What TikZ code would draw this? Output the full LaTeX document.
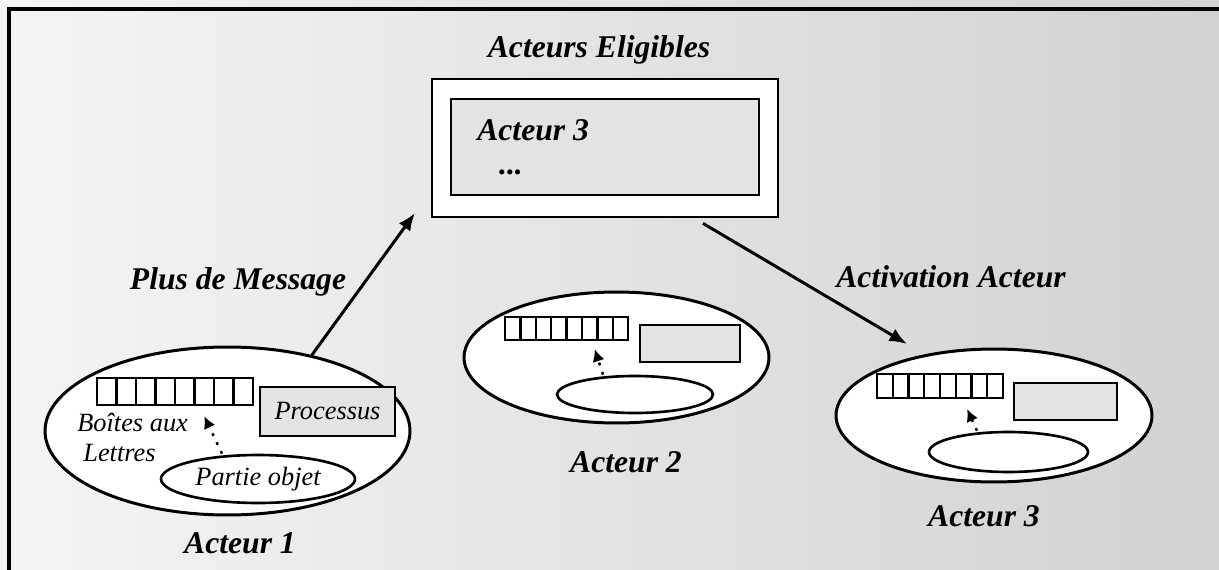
\documentclass[tikz,border=0pt]{standalone}
\usepackage{fontspec}
\setmainfont{Liberation Serif}
\usetikzlibrary{arrows,arrows.meta}
\usetikzlibrary{shapes.geometric}

\begin{document}
\begin{tikzpicture}[x=0.02cm,y=-0.02cm,
  acteur/.style={ellipse,draw,line width=1.7pt,fill=white,inner sep=0pt},
  objet/.style={ellipse,draw,line width=1.5pt,fill=white,inner sep=0pt},
  casebal/.style={draw,line width=1.3pt,fill=white,inner sep=0pt},
  procbox/.style={draw,line width=1.4pt,fill=gray!22,inner sep=0pt},
  titre/.style={font=\fontsize{18}{20}\selectfont\bfseries\itshape,inner sep=0pt},
  texte/.style={font=\fontsize{15}{17}\selectfont\itshape,inner sep=0pt},
  fleche/.style={-{Latex[length=10pt,width=8pt]},line width=1.7pt},
  pointille/.style={-{Latex[length=7pt,width=7pt]},line width=1.4pt,dash pattern=on 1.6pt off 4pt}]

\useasboundingbox (0,0) rectangle (1219,570);
\shade[left color=gray!8,right color=gray!36] (-10,-10) rectangle (1240,590);
\draw[line width=2.2pt] (9,600) -- (9,9) -- (1250,9);

% file des acteurs eligibles
\node[draw,line width=1.6pt,fill=white,minimum width=6.92cm,minimum height=2.76cm,inner sep=0pt] (eligibles) at (605,148) {};
\node[procbox,minimum width=6.16cm,minimum height=1.92cm] (liste) at (605,147) {};
\node[titre] (titreelig) at (599,50) {Acteurs Eligibles};
\node[titre,anchor=west] (elu) at (477,130) {Acteur 3};
\node[titre] (suite) at (511,172) {...};

% acteur 1
\node[acteur,minimum width=7.3cm,minimum height=3.36cm] (a1) at (227.5,431) {};
\foreach \i in {1,...,8}
  \node[casebal,minimum width=0.39cm,minimum height=0.54cm] (b1-\i) at ({97+19.5*(\i-0.5)},391.5) {};
\node[procbox,texte,draw,minimum width=2.7cm,minimum height=0.98cm] (p1) at (327.5,411.5) {Processus};
\node[texte,anchor=west] (lbl1) at (77,422) {Boîtes aux};
\node[texte,anchor=west] (lbl1b) at (83,453) {Lettres};
\node[objet,texte,draw,minimum width=3.88cm,minimum height=0.96cm] (o1) at (258,479) {Partie objet};
\draw[pointille] ([xshift=-0.72cm]o1.north) -- ([yshift=-0.2cm]b1-6.south);
\node[titre] (nom1) at (240,543) {Acteur 1};

% acteur 2
\node[acteur,minimum width=6.1cm,minimum height=2.62cm] (a2) at (616.5,357.5) {};
\foreach \i in {1,...,8}
  \node[casebal,minimum width=0.308cm,minimum height=0.46cm] (b2-\i) at ({505+15.4*(\i-0.5)},328.5) {};
\node[procbox,minimum width=2cm,minimum height=0.74cm] (p2) at (690,343.5) {};
\node[objet,minimum width=3.12cm,minimum height=0.74cm] (o2) at (635,394.5) {};
\draw[pointille] ([xshift=-0.64cm]o2.north) -- ([xshift=0.1cm,yshift=-0.16cm]b2-6.south);
\node[titre] (nom2) at (626,462) {Acteur 2};

% acteur 3
\node[acteur,minimum width=6.32cm,minimum height=2.66cm] (a3) at (994,415.5) {};
\foreach \i in {1,...,8}
  \node[casebal,minimum width=0.315cm,minimum height=0.48cm] (b3-\i) at ({877+15.75*(\i-0.5)},386) {};
\node[procbox,minimum width=2.06cm,minimum height=0.74cm] (p3) at (1065.5,401.5) {};
\node[objet,minimum width=3.18cm,minimum height=0.8cm] (o3) at (1008.5,452) {};
\draw[pointille] ([xshift=-0.63cm]o3.north) -- ([xshift=0.07cm,yshift=-0.2cm]b3-6.south);
\node[titre] (nom3) at (984,516) {Acteur 3};

% transitions
\coordinate (pointe1) at (415,213);
\coordinate (pointe2) at (907,344);
\draw[fleche] (a1.42) -- (pointe1);
\node[titre] (msg) at (238,282) {Plus de Message};
\draw[fleche] ([xshift=1.96cm,yshift=-0.1cm]eligibles.south) -- (pointe2);
\node[titre] (activ) at (951,277) {Activation Acteur};

\end{tikzpicture}
\end{document}
